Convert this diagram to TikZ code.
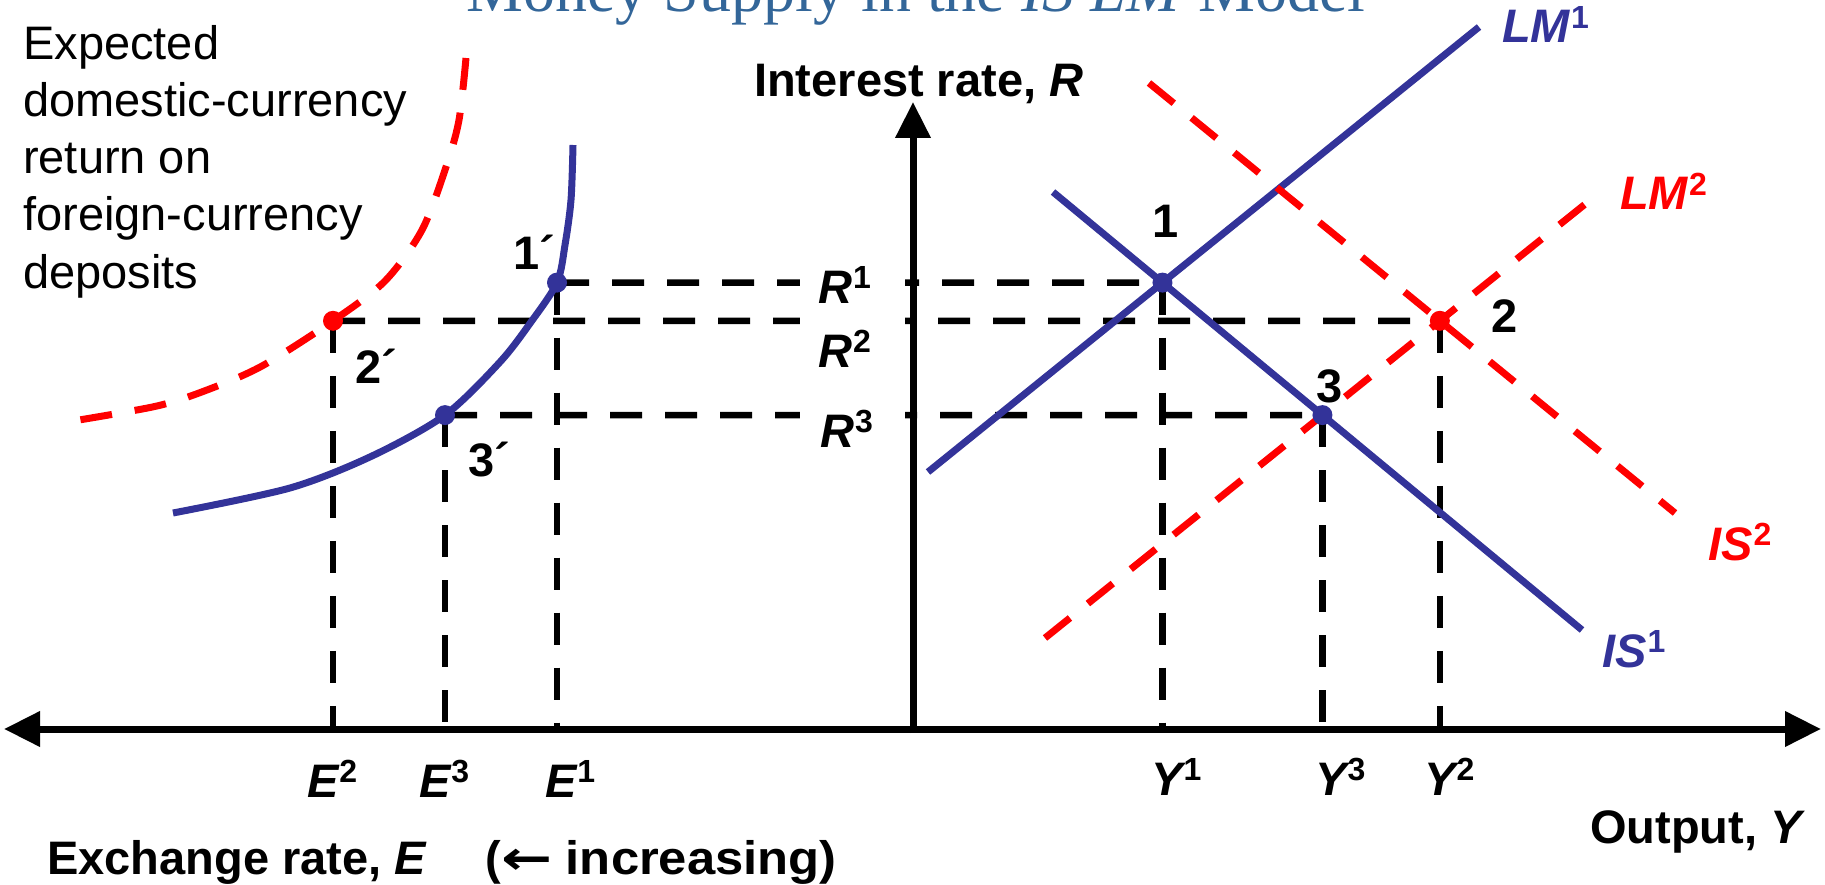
\documentclass[tikz,border=0pt]{standalone}
\usepackage{fontspec}
\setmainfont{Liberation Sans}
\newfontfamily\titlefont{Liberation Serif}
\newfontfamily\arrowfont{DejaVu Sans}
\usetikzlibrary{arrows.meta}
\definecolor{lineblue}{RGB}{51,51,153}
\definecolor{linered}{RGB}{255,0,0}
\definecolor{titleblue}{RGB}{51,102,153}
\newcommand{\sups}[1]{\kern0.02em\raisebox{0.3em}{\fontsize{32}{32}\selectfont #1}}
\newcommand{\iv}[1]{{\itshape #1}}
\begin{document}
\begin{tikzpicture}[x=1pt,y=-1pt,
  lbl/.style={inner sep=0pt, anchor=base west, font=\fontsize{47}{56}\selectfont\bfseries},
  txt/.style={inner sep=0pt, anchor=base west, font=\fontsize{47}{56}\selectfont},
  axisline/.style={line width=7pt},
  guide/.style={line width=6.5pt, dash pattern=on 32pt off 23pt},
  bluecurve/.style={line width=7pt, draw=lineblue},
  redcurve/.style={line width=7pt, draw=linered, dash pattern=on 32pt off 23pt},
  dotb/.style={circle, fill=lineblue, inner sep=0pt, minimum size=20pt},
  dotr/.style={circle, fill=linered, inner sep=0pt, minimum size=20pt},
  tip/.tip={Triangle[length=36pt,width=34pt]}
]
\useasboundingbox (0,0) rectangle (1825,885);
% title (top part cut off, as in the reference)
\node[anchor=base, inner sep=0pt, text=titleblue, font=\titlefont\fontsize{64}{70}\selectfont] (title) at (916,12) {Money Supply in the \textit{IS LM} Model};
% coordinates
\coordinate (xl) at (4,729);
\coordinate (xr) at (1821,729);
\coordinate (ybot) at (913,733);
\coordinate (ytop) at (913,102);
\coordinate (lm1a) at (928,472);  \coordinate (lm1b) at (1479,27);
\coordinate (is1a) at (1053,192); \coordinate (is1b) at (1582,630);
\coordinate (lm2a) at (1045,638); \coordinate (lm2b) at (1594,197);
\coordinate (is2a) at (1149,83);  \coordinate (is2b) at (1675,513);
\coordinate (P1) at (intersection of lm1a--lm1b and is1a--is1b);
\coordinate (P2) at (intersection of lm2a--lm2b and is2a--is2b);
\coordinate (P3) at (intersection of lm2a--lm2b and is1a--is1b);
\coordinate (C1) at (557,282.6);
\coordinate (C2) at (333,320.8);
\coordinate (C3) at (445,415.1);
% guide lines
\draw[guide] (C1) -- (P1);
\draw[guide] (C2) -- (P2);
\draw[guide] (C3) -- (P3);
\foreach \c in {C1,C2,C3,P1,P2,P3} \draw[guide] (\c) -- (\c |- xl);
% white box behind R labels
\node[fill=white, inner sep=0pt, minimum width=105pt, minimum height=195pt] (rbox) at (852,360) {};
\node[lbl] (r1) at (818,303) {\iv{R}\sups{1}};
\node[lbl] (r2) at (818,367) {\iv{R}\sups{2}};
\node[lbl] (r3) at (820,447) {\iv{R}\sups{3}};
% left curves
\draw[redcurve] plot[smooth] coordinates {(466,58) (459,120) (446,167) (422,230) (385,281) (333,320.8) (262,366) (207,390) (157,406) (73,421)};
\draw[bluecurve] plot[smooth] coordinates {(573,145) (571,200) (565,245) (557,282.6) (531,322) (500,362) (445,415.1) (372,456) (290,488) (173,513)};
% IS-LM lines
\draw[bluecurve] (lm1a) -- (lm1b);
\draw[bluecurve] (is1a) -- (is1b);
\draw[redcurve] (lm2a) -- (lm2b);
\draw[redcurve] (is2a) -- (is2b);
% axes
\draw[axisline, tip-tip] (xl) -- (xr);
\draw[axisline, -tip] (ybot) -- (ytop);
% points
\node[dotb] (d1) at (P1) {};
\node[dotr] (d2) at (P2) {};
\node[dotb] (d3) at (P3) {};
\node[dotb] (d1p) at (C1) {};
\node[dotr] (d2p) at (C2) {};
\node[dotb] (d3p) at (C3) {};
% point labels
\node[lbl, anchor=base] (n1) at (1166,238) {1};
\node[lbl] (n2) at (1491,332) {2};
\node[lbl] (n3) at (1316,402) {3};
\node[lbl] (n1p) at (513,270) {1´};
\node[lbl] (n2p) at (355,383) {2´};
\node[lbl] (n3p) at (468,476) {3´};
% curve labels
\node[lbl, text=lineblue] (lLM1) at (1502,43) {\iv{LM}\sups{1}};
\node[lbl, text=linered] (lLM2) at (1620,210) {\iv{LM}\sups{2}};
\node[lbl, text=lineblue] (lIS1) at (1602,667) {\iv{IS}\sups{1}};
\node[lbl, text=linered] (lIS2) at (1708,560) {\iv{IS}\sups{2}};
% axis labels
\node[lbl] (ylab) at (754,97) {Interest rate, \iv{R}};
\node[lbl] (xlab) at (1590,843) {Output, \iv{Y}};
\node[lbl] (elab) at (47,874) {Exchange rate, \iv{E}\hspace*{60pt}(\scalebox{1.3}[1]{\arrowfont\bfseries ←} \scalebox{1.08}[1]{increasing)}};
\node[lbl] (e2) at (307,797) {\iv{E}\sups{2}};
\node[lbl] (e3) at (419,797) {\iv{E}\sups{3}};
\node[lbl] (e1) at (545,797) {\iv{E}\sups{1}};
\node[lbl] (y1) at (1151,795) {\iv{Y}\sups{1}};
\node[lbl] (y3) at (1315,795) {\iv{Y}\sups{3}};
\node[lbl] (y2) at (1424,795) {\iv{Y}\sups{2}};
% left text
\node[txt] (t1) at (23,60) {Expected};
\node[txt] (t2) at (23,117) {domestic-currency};
\node[txt] (t3) at (23,174) {return on};
\node[txt] (t4) at (23,231) {foreign-currency};
\node[txt] (t5) at (23,288) {deposits};
\end{tikzpicture}
\end{document}
